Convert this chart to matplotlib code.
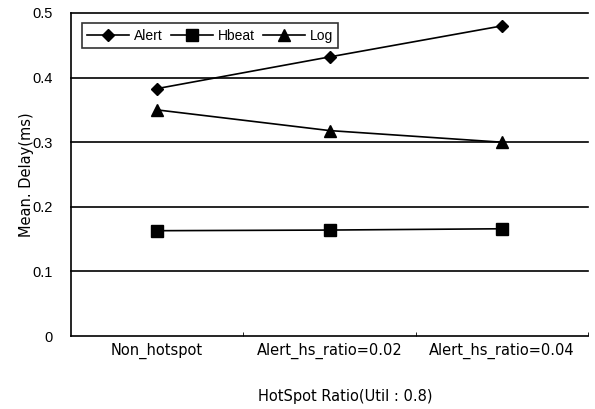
import matplotlib
matplotlib.use('Agg')
import matplotlib.pyplot as plt
import numpy as np

plt.rcParams['font.family'] = ['Liberation Sans', 'DejaVu Sans']

categories = ['Non_hotspot', 'Alert_hs_ratio=0.02', 'Alert_hs_ratio=0.04']
alert = [0.383, 0.432, 0.480]
hbeat = [0.163, 0.164, 0.166]
log = [0.350, 0.318, 0.300]
yticks = [0, 0.1, 0.2, 0.3, 0.4, 0.5]
ytick_labels = ['0', '0.1', '0.2', '0.3', '0.4', '0.5']

fig = plt.figure(figsize=(5.95, 4.09), dpi=100)
ax = fig.add_axes([71/595, 1-336/409, (588-71)/595, (336-13)/409])

x = np.arange(len(categories))
# gridlines drawn as plain black rules, as in the original
for ax_y in yticks[1:]:
	ax.axhline(ax_y, color='black', lw=1.2, zorder=1, clip_on=False)

ax.plot(x, alert, color='black', lw=1.2, marker='D', ms=6.5, label='Alert', zorder=3)
ax.plot(x, hbeat, color='black', lw=1.2, marker='s', ms=8.5, label='Hbeat', zorder=3)
ax.plot(x, log, color='black', lw=1.2, marker='^', ms=9, label='Log', zorder=3)

ax.set_xlim(-0.5, 2.5)
ax.set_ylim(0, 0.5)
ax.set_yticks(yticks)
ax.set_yticklabels(ytick_labels)
ax.set_xticks(x)
ax.set_xticklabels(categories, family=['DejaVu Sans'], fontsize=10.5)
ax.set_xticks([0.5, 1.5, 2.5], minor=True)
ax.tick_params(axis='x', which='major', length=0, pad=5)
ax.tick_params(axis='x', which='minor', direction='in', length=3)
ax.tick_params(axis='y', length=0, pad=13, labelsize=10.5)

ax.spines['top'].set_visible(False)
ax.spines['right'].set_visible(False)
ax.spines['left'].set_linewidth(1.2)
ax.spines['bottom'].set_linewidth(1.2)

ax.set_ylabel('Mean. Delay(ms)', family=['DejaVu Sans'], fontsize=10.5)
ax.yaxis.set_label_coords(-0.072, 0.5)
ax.set_xlabel('HotSpot Ratio(Util : 0.8)', family=['DejaVu Sans'], fontsize=10.5)
ax.xaxis.set_label_coords(0.53, -0.165)

leg = ax.legend(loc='upper left', bbox_to_anchor=(0.021, 0.969), ncol=3, frameon=True,
	fancybox=False, edgecolor='black', fontsize=10, handlelength=3.0,
	columnspacing=0.6, handletextpad=0.35, borderpad=0.4, borderaxespad=0)
leg.get_frame().set_linewidth(1.2)

fig.savefig('out.png', dpi=100)
